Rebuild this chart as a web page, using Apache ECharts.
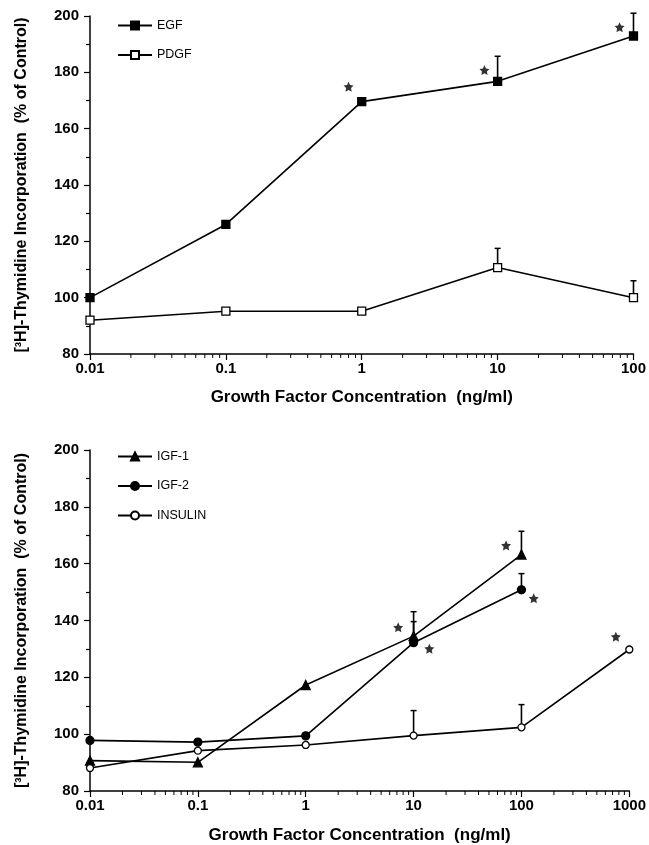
<!DOCTYPE html>
<html><head><meta charset="utf-8">
<script src="https://cdn.jsdelivr.net/npm/echarts@6/dist/echarts.min.js"></script>
<style>html,body{margin:0;padding:0;background:#fff}#c{width:649px;height:845px}</style>
</head><body><div id="c"></div>
<script>
// ---- data: top panel ----
const xTop = [0.01, 0.1, 1, 10, 100];
const xTopLabels = ['0.01', '0.1', '1', '10', '100'];
const egf = [100, 126, 169.6, 176.8, 192.9];
const egfErr = [null, null, null, 185.7, 201];
const pdgf = [92, 95.2, 95.2, 110.7, 100];
const pdgfErr = [null, null, null, 117.5, 106];
const starsTop = [[0.8, 174.9], [8, 180.8], [79, 196]];

// ---- data: bottom panel ----
const xBot = [0.01, 0.1, 1, 10, 100, 1000];
const xBotLabels = ['0.01', '0.1', '1', '10', '100', '1000'];
const igf1 = [90.7, 90.1, 117.3, 134.5, 163.2, null];
const igf1Err = [null, null, null, 143.1, 171.4, null];
const igf2 = [97.8, 97.2, 99.4, 132.2, 150.8, null];
const igf2Err = [null, null, null, 139.6, 156.5, null];
const insulin = [88.1, 94.2, 96.2, 99.5, 102.4, 129.8];
const insulinErr = [null, null, null, 108.3, 110.4, null];
const starsBot = [[72, 166.4], [130, 147.8], [7.2, 137.6], [14, 130.1], [750, 134.3]];

const yTicks = [80, 100, 120, 140, 160, 180, 200];
const yTitle = '[³H]-Thymidine Incorporation  (% of Control)';
const xTitle = 'Growth Factor Concentration  (ng/ml)';

const FONT = '"Liberation Sans", Arial, Helvetica, sans-serif';

function pairs(xs, ys) {
  const out = [];
  xs.forEach((x, i) => { if (ys[i] != null) out.push([x, ys[i]]); });
  return out;
}
function lineSeries(name, xs, ys, gi, symbol, size, fill) {
  return {
    type: 'line', name, xAxisIndex: gi, yAxisIndex: gi, data: pairs(xs, ys),
    symbol, symbolSize: size, showAllSymbol: true,
    lineStyle: { color: '#000', width: 1.6 },
    itemStyle: { color: fill, borderColor: '#000', borderWidth: 1.3 },
    emphasis: { disabled: true }, z: 3
  };
}
function errSeries(xs, ys, errs, gi) {
  const data = [];
  xs.forEach((x, i) => { if (errs[i] != null) data.push([x, ys[i], errs[i]]); });
  return {
    type: 'custom', xAxisIndex: gi, yAxisIndex: gi, data, silent: true, z: 2, clip: false,
    renderItem(params, api) {
      const p0 = api.coord([api.value(0), api.value(1)]);
      const p1 = api.coord([api.value(0), api.value(2)]);
      return { type: 'group', children: [
        { type: 'line', shape: { x1: p0[0], y1: p0[1], x2: p1[0], y2: p1[1] }, style: { stroke: '#000', lineWidth: 1.6 } },
        { type: 'line', shape: { x1: p1[0] - 3, y1: p1[1], x2: p1[0] + 3, y2: p1[1] }, style: { stroke: '#000', lineWidth: 1.5 } }
      ] };
    }
  };
}
function starSeries(stars, gi) {
  return {
    type: 'scatter', xAxisIndex: gi, yAxisIndex: gi, data: stars, silent: true,
    symbol: 'path://M0,-10 L2.9,-4 9.5,-3.1 4.7,1.5 5.9,8.1 0,5 -5.9,8.1 -4.7,1.5 -9.5,-3.1 -2.9,-4Z',
    symbolSize: 10, itemStyle: { color: '#000' }, z: 4
  };
}
function minorTickSeries(maxExp, gi) {
  const data = [];
  for (let e = -2; e < maxExp; e++) {
    for (let m = 2; m <= 9; m++) data.push([m * Math.pow(10, e), 80]);
  }
  return {
    type: 'custom', xAxisIndex: gi, yAxisIndex: gi, data, silent: true, clip: false, z: 1,
    renderItem(params, api) {
      const p = api.coord([api.value(0), api.value(1)]);
      return { type: 'line', shape: { x1: p[0], y1: p[1], x2: p[0], y2: p[1] + 4 }, style: { stroke: '#000', lineWidth: 1 } };
    }
  };
}
function xAxis(gi, maxV, labels) {
  return {
    type: 'log', logBase: 10, gridIndex: gi, min: 0.01, max: maxV,
    name: xTitle, nameLocation: 'middle', nameGap: gi === 0 ? 35 : 36,
    nameTextStyle: { fontFamily: FONT, fontWeight: 'bold', fontSize: 17, color: '#000' },
    axisLine: { lineStyle: { color: '#000', width: 1.5 } },
    axisTick: { show: true, inside: false, length: 6, lineStyle: { color: '#000', width: 1.2 } },
    axisLabel: {
      fontFamily: FONT, fontWeight: 'bold', fontSize: 15, color: '#000', margin: 7,
      showMinLabel: true, showMaxLabel: true,
      formatter: v => labels[Math.round(Math.log10(v)) + 2]
    },
    splitLine: { show: false }, minorTick: { show: false }
  };
}
function yAxis(gi) {
  return {
    type: 'value', gridIndex: gi, min: 80, max: 200, interval: 20,
    name: yTitle, nameLocation: 'middle', nameGap: 60,
    nameTextStyle: { fontFamily: FONT, fontWeight: 'bold', fontSize: 16, color: '#000' },
    axisLine: { show: true, lineStyle: { color: '#000', width: 1.5 } },
    axisTick: { show: true, inside: false, length: 6, lineStyle: { color: '#000', width: 1.2 } },
    minorTick: { show: true, splitNumber: 2, length: 4, lineStyle: { color: '#000', width: 1.2 } },
    axisLabel: { fontFamily: FONT, fontWeight: 'bold', fontSize: 15, color: '#000', margin: 11,
      formatter: v => String(yTicks[yTicks.indexOf(v)]) },
    splitLine: { show: false }
  };
}
const legendBase = {
  orient: 'vertical', left: 112, itemWidth: 34, itemHeight: 10, itemGap: 16.5,
  textStyle: { fontFamily: FONT, fontSize: 12.5, color: '#000' }, selectedMode: false
};

const chart = echarts.init(document.getElementById('c'), null, { renderer: 'canvas' });
chart.setOption({
  animation: false,
  backgroundColor: '#fff',
  grid: [
    { left: 90, top: 16, width: 546, height: 338 },
    { left: 90, top: 450, width: 546, height: 341 }
  ],
  xAxis: [xAxis(0, 100, xTopLabels), xAxis(1, 1000, xBotLabels)],
  yAxis: [yAxis(0), yAxis(1)],
  legend: [
    Object.assign({}, legendBase, { top: 14, data: ['EGF', 'PDGF'] }),
    Object.assign({}, legendBase, { top: 445, data: ['IGF-1', 'IGF-2', 'INSULIN'] })
  ],
  series: [
    minorTickSeries(2, 0),
    minorTickSeries(3, 1),
    errSeries(xTop, egf, egfErr, 0),
    errSeries(xTop, pdgf, pdgfErr, 0),
    lineSeries('EGF', xTop, egf, 0, 'rect', 8, '#000'),
    lineSeries('PDGF', xTop, pdgf, 0, 'rect', 8, '#fff'),
    starSeries(starsTop, 0),
    errSeries(xBot, igf1, igf1Err, 1),
    errSeries(xBot, igf2, igf2Err, 1),
    errSeries(xBot, insulin, insulinErr, 1),
    lineSeries('IGF-1', xBot, igf1, 1, 'triangle', 9, '#000'),
    lineSeries('IGF-2', xBot, igf2, 1, 'circle', 8, '#000'),
    lineSeries('INSULIN', xBot, insulin, 1, 'circle', 7, '#fff'),
    starSeries(starsBot, 1)
  ]
});
</script>
</body></html>
